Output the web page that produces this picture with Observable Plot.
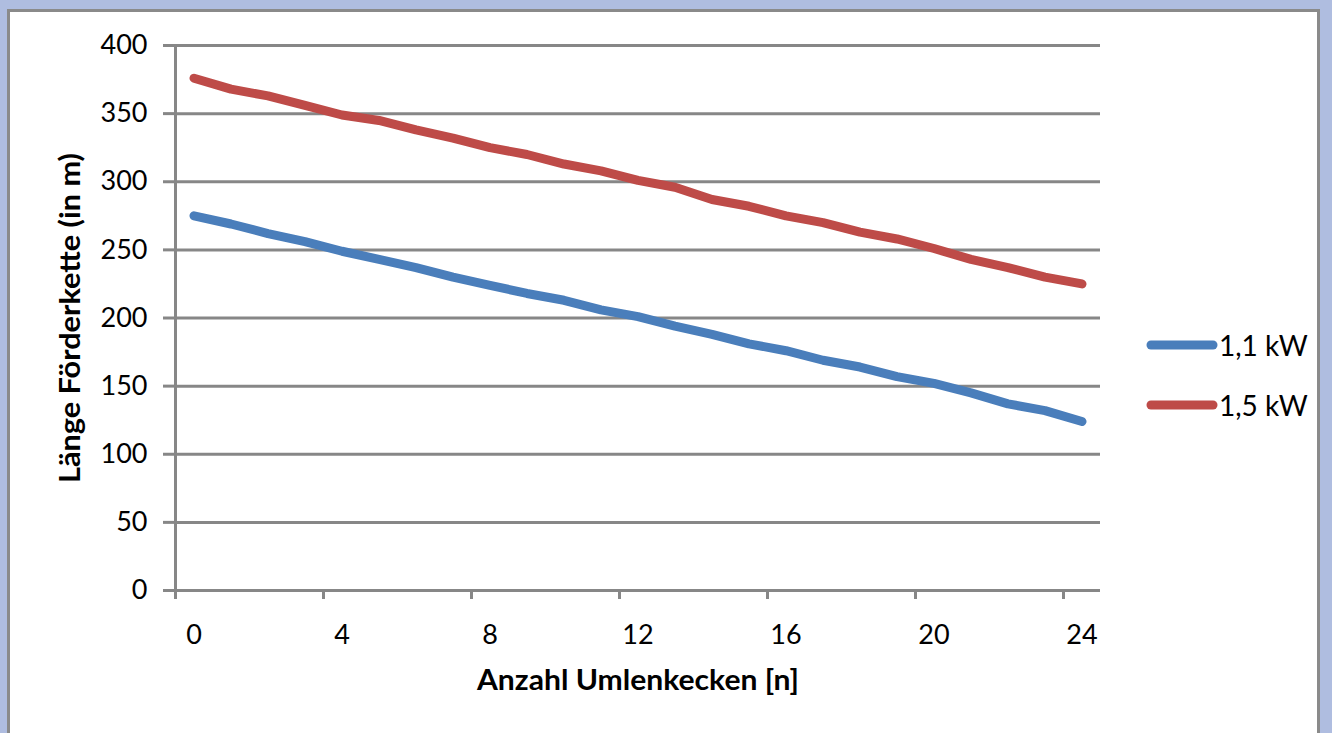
<!DOCTYPE html>
<html>
<head>
<meta charset="utf-8">
<script src="https://cdn.jsdelivr.net/npm/d3@7"></script>
<script src="https://cdn.jsdelivr.net/npm/@observablehq/plot@0.6"></script>
<style>
  html, body { margin: 0; padding: 0; }
  body { width: 1332px; height: 733px; background: #AFBDE0; position: relative; overflow: hidden; font-family: Lato, sans-serif; }
  #frame { position: absolute; left: 7px; top: 9px; width: 1307px; height: 740px; background: #fff; border: 3px solid #8A8A8A; }
  #chart { position: absolute; left: 0; top: 0; }
  #legend { position: absolute; left: 1146px; top: 325px; }
  .item { display: flex; align-items: center; height: 40px; margin-bottom: 20px; font-size: 28px; color: #000; }
  .item svg { margin-right: 1px; }
</style>
</head>
<body>
<div id="frame"></div>
<div id="chart"></div>
<div id="legend"></div>
<script>
// Data
const categories = [0, 1, 2, 3, 4, 5, 6, 7, 8, 9, 10, 11, 12, 13, 14, 15, 16, 17, 18, 19, 20, 21, 22, 23, 24];
const values11kW = [275, 269, 262, 256, 249, 243, 237, 230, 224, 218, 213, 206, 201, 194, 188, 181, 176, 169, 164, 157, 152, 145, 137, 132, 124];
const values15kW = [376, 368, 363, 356, 349, 345, 338, 332, 325, 320, 313, 308, 301, 296, 287, 282, 275, 270, 263, 258, 251, 243, 237, 230, 225];
const seriesNames = ["1,1 kW", "1,5 kW"];
const seriesColors = ["#4A7EBB", "#BE4B48"];
const yTicks = [0, 50, 100, 150, 200, 250, 300, 350, 400];
const xTickLabels = [0, 4, 8, 12, 16, 20, 24];
const xTitle = "Anzahl Umlenkecken [n]";
const yTitle = "Länge Förderkette (in m)";

const seriesValues = [values11kW, values15kW];
const rows = seriesNames.flatMap((name, s) =>
  categories.map((c, i) => ({series: name, n: c, value: seriesValues[s][i]})));

const xDomain = [categories[0] - 0.5, categories[categories.length - 1] + 0.5];
const xBoundaries = xTickLabels.map(v => v - 0.5);
const gray = "#878787";

const chart = Plot.plot({
  width: 1332,
  height: 733,
  marginLeft: 175,
  marginRight: 232,
  marginTop: 45,
  marginBottom: 143,
  style: {fontFamily: "Lato, sans-serif", background: "transparent", overflow: "visible"},
  x: {type: "linear", domain: xDomain},
  y: {domain: [yTicks[0], yTicks[yTicks.length - 1]]},
  color: {domain: seriesNames, range: seriesColors},
  marks: [
    Plot.gridY(yTicks, {stroke: gray, strokeOpacity: 1, strokeWidth: 3}),
    Plot.ruleX([xDomain[0]], {stroke: gray, strokeWidth: 3}),
    Plot.axisY(yTicks, {tickSize: 12, tickPadding: 16, stroke: gray, strokeWidth: 3, fontSize: 27, fill: "#000", label: null}),
    Plot.axisX(xBoundaries, {tickSize: 9, stroke: gray, strokeWidth: 3, tickFormat: () => "", label: null}),
    Plot.axisX(xTickLabels, {tickSize: 0, tickPadding: 34, fontSize: 27, fill: "#000", label: null}),
    Plot.text([yTitle], {frameAnchor: "left", textAnchor: "middle", rotate: -90, dx: -104, fontSize: 28, fontWeight: "bold", fill: "#000"}),
    Plot.text([xTitle], {frameAnchor: "bottom", textAnchor: "middle", dy: 99, fontSize: 28, fontWeight: "bold", fill: "#000"}),
    Plot.line(rows, {x: "n", y: "value", z: "series", stroke: "series", strokeWidth: 9, strokeLinecap: "round", strokeLinejoin: "round"})
  ]
});
document.getElementById("chart").appendChild(chart);

// Stretch axis titles to the reference's text lengths
d3.select(chart).selectAll("text").each(function() {
  const t = d3.select(this).text();
  if (t === yTitle) d3.select(this).attr("textLength", 330).attr("lengthAdjust", "spacingAndGlyphs");
  if (t === xTitle) d3.select(this).attr("textLength", 322).attr("lengthAdjust", "spacingAndGlyphs");
});

// Legend
const legend = d3.select("#legend");
seriesNames.forEach((name, i) => {
  const item = legend.append("div").attr("class", "item");
  const sw = item.append("svg").attr("width", 72).attr("height", 12);
  sw.append("line").attr("x1", 5).attr("x2", 67).attr("y1", 6).attr("y2", 6)
    .attr("stroke", seriesColors[i]).attr("stroke-width", 9).attr("stroke-linecap", "round");
  item.append("span").text(name);
});
</script>
</body>
</html>
